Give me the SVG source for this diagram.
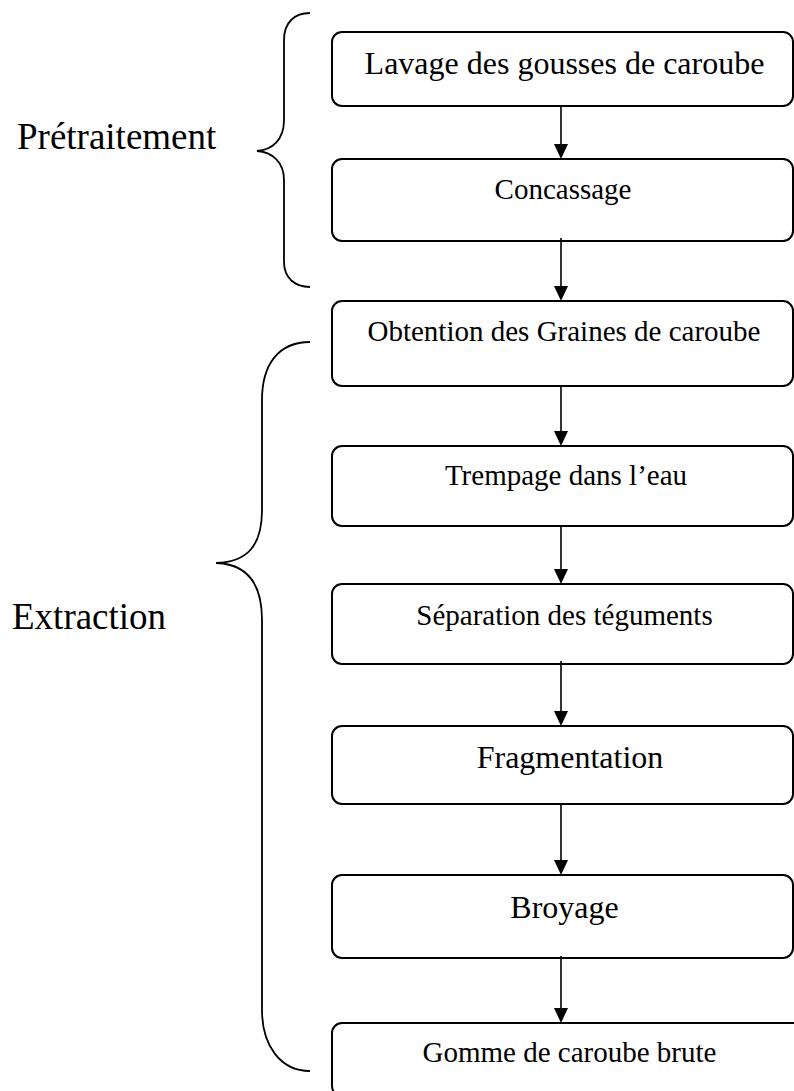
<svg xmlns="http://www.w3.org/2000/svg" xmlns:xlink="http://www.w3.org/1999/xlink" width="794" height="1091" viewBox="0 0 794 1091">
<style>
.box{fill:#fff;stroke:#000;stroke-width:2}
.t{font-family:"Liberation Serif","Times New Roman",serif;fill:#000;text-anchor:middle}
.lbl{font-family:"Liberation Serif","Times New Roman",serif;fill:#000;font-size:37px}
.brace{fill:none;stroke:#000;stroke-width:1.8}
.arr{stroke:#000;stroke-width:1.6;fill:none}
.head{fill:#000}
</style>
<defs>
<path id="ah" d="M-7,-15 L7,-15 L0,0 Z"/>
</defs>
<rect width="794" height="1091" fill="#fff"/>
<g id="labels">
<text class="lbl" x="17" y="149">Prétraitement</text>
<text class="lbl" x="12" y="629">Extraction</text>
</g>
<g id="braces">
<path class="brace" d="M310,13 C295,13 284,22 284,40 L284,120 C284,140 272,150 257,151 C272,152 284,162 284,180 L284,262 C284,278 295,287 310,287"/>
<path class="brace" d="M310,342 C278,342 262,365 262,400 L262,510 C262,545 248,562 216,563 C248,564 262,585 262,620 L262,1010 C262,1045 280,1071 310,1071"/>
</g>
<g id="n1"><rect class="box" x="332" y="32" width="461" height="74" rx="10"/><text class="t" x="564.5" y="74" font-size="32">Lavage des gousses de caroube</text></g>
<g id="n2"><rect class="box" x="332" y="159" width="461" height="82" rx="10"/><text class="t" x="563" y="199" font-size="29">Concassage</text></g>
<g id="n3"><rect class="box" x="332" y="301" width="461" height="85" rx="10"/><text class="t" x="564" y="341" font-size="29">Obtention des Graines de caroube</text></g>
<g id="n4"><rect class="box" x="332" y="446" width="461" height="80" rx="10"/><text class="t" x="566" y="485" font-size="29">Trempage dans l’eau</text></g>
<g id="n5"><rect class="box" x="332" y="584" width="461" height="80" rx="10"/><text class="t" x="564.5" y="625" font-size="29">Séparation des téguments</text></g>
<g id="n6"><rect class="box" x="332" y="726" width="461" height="78" rx="10"/><text class="t" x="570" y="768" font-size="32">Fragmentation</text></g>
<g id="n7"><rect class="box" x="332" y="875" width="461" height="83" rx="10"/><text class="t" x="564.5" y="918" font-size="32">Broyage</text></g>
<g id="n8"><rect class="box" x="332" y="1023" width="480" height="73" rx="10"/><text class="t" x="569.5" y="1062" font-size="29">Gomme de caroube brute</text></g>
<g id="connectors">
<line class="arr" x1="561" y1="106" x2="561" y2="146"/><use xlink:href="#ah" href="#ah" class="head" x="561" y="159"/>
<line class="arr" x1="561" y1="238" x2="561" y2="288"/><use xlink:href="#ah" href="#ah" class="head" x="561" y="301"/>
<line class="arr" x1="561" y1="386" x2="561" y2="433"/><use xlink:href="#ah" href="#ah" class="head" x="561" y="446"/>
<line class="arr" x1="561" y1="526" x2="561" y2="571"/><use xlink:href="#ah" href="#ah" class="head" x="561" y="584"/>
<line class="arr" x1="561" y1="661" x2="561" y2="713"/><use xlink:href="#ah" href="#ah" class="head" x="561" y="726"/>
<line class="arr" x1="561" y1="804" x2="561" y2="862"/><use xlink:href="#ah" href="#ah" class="head" x="561" y="875"/>
<line class="arr" x1="561" y1="956" x2="561" y2="1010"/><use xlink:href="#ah" href="#ah" class="head" x="561" y="1023"/>
</g>
</svg>
